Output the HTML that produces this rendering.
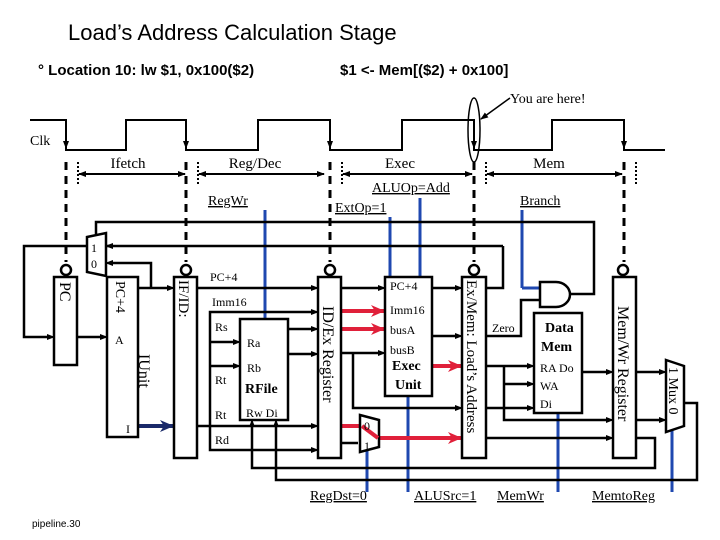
<!DOCTYPE html>
<html><head><meta charset="utf-8"><style>
html,body{margin:0;padding:0;background:#fff;}
svg{display:block}
</style></head><body>
<svg width="720" height="540" viewBox="0 0 720 540" xmlns="http://www.w3.org/2000/svg">
<defs>
<marker id="a" markerWidth="8" markerHeight="8" refX="7" refY="4" orient="auto" markerUnits="userSpaceOnUse"><path d="M0,1 L8,4 L0,7 Z" fill="#000"/></marker>
<marker id="r" markerWidth="14" markerHeight="12" refX="13" refY="6" orient="auto" markerUnits="userSpaceOnUse"><path d="M0,0 L14,6 L0,12 L4,6 Z" fill="#e0203a"/></marker>
<marker id="b" markerWidth="14" markerHeight="12" refX="13" refY="6" orient="auto" markerUnits="userSpaceOnUse"><path d="M0,0 L14,6 L0,12 L4,6 Z" fill="#1a2a6a"/></marker>
</defs>
<g font-family="Liberation Sans, sans-serif">
<text x="68" y="40" font-size="22">Load’s Address Calculation Stage</text>
<text x="38" y="75" font-size="15" font-weight="bold">°  Location 10: lw  $1, 0x100($2)</text>
<text x="340" y="75" font-size="15" font-weight="bold">$1 &lt;-  Mem[($2) + 0x100]</text>
<text x="32" y="527" font-size="10">pipeline.30</text>
</g>
<g font-family="Liberation Serif, serif" fill="#000">
<polyline points="30,120 66,120 66,150 126,150 126,120 186,120 186,150 258,150 258,120 330,120 330,150 402,150 402,120 474,120 474,150 552,150 552,120 624,120 624,150 665,150" fill="none" stroke="#000" stroke-width="2"/>
<g stroke="#000" stroke-width="1.5"><line x1="66" y1="130" x2="66" y2="148" marker-end="url(#a)"/><line x1="186" y1="130" x2="186" y2="148" marker-end="url(#a)"/><line x1="330" y1="130" x2="330" y2="148" marker-end="url(#a)"/><line x1="474" y1="130" x2="474" y2="148" marker-end="url(#a)"/><line x1="624" y1="130" x2="624" y2="148" marker-end="url(#a)"/></g>
<text x="30" y="145" font-size="14">Clk</text>
<ellipse cx="474" cy="130" rx="6" ry="32" fill="none" stroke="#000" stroke-width="1.5"/>
<line x1="510" y1="98" x2="481" y2="119" stroke="#000" stroke-width="1.5" marker-end="url(#a)"/>
<text x="510" y="103" font-size="14">You are here!</text>
<g stroke="#000" stroke-width="3" stroke-dasharray="8,6" fill="none">
<line x1="66" y1="162" x2="66" y2="262"/><line x1="186" y1="162" x2="186" y2="262"/><line x1="330" y1="162" x2="330" y2="262"/><line x1="474" y1="162" x2="474" y2="262"/><line x1="624" y1="162" x2="624" y2="262"/>
</g>
<g stroke="#000" stroke-width="2" stroke-dasharray="2,2"><line x1="78" y1="162" x2="78" y2="185"/><line x1="198" y1="162" x2="198" y2="185"/><line x1="342" y1="162" x2="342" y2="185"/><line x1="486" y1="162" x2="486" y2="185"/><line x1="636" y1="162" x2="636" y2="185"/></g>
<g stroke="#000" stroke-width="2"><line x1="79" y1="174" x2="185" y2="174" marker-end="url(#a)"/><line x1="185" y1="174" x2="79" y2="174" marker-end="url(#a)"/>
<line x1="199" y1="174" x2="324" y2="174" marker-end="url(#a)"/><line x1="324" y1="174" x2="199" y2="174" marker-end="url(#a)"/>
<line x1="343" y1="174" x2="472" y2="174" marker-end="url(#a)"/><line x1="472" y1="174" x2="343" y2="174" marker-end="url(#a)"/>
<line x1="487" y1="174" x2="622" y2="174" marker-end="url(#a)"/><line x1="622" y1="174" x2="487" y2="174" marker-end="url(#a)"/></g>
<g font-size="15" text-anchor="middle"><text x="128" y="168">Ifetch</text><text x="255" y="168">Reg/Dec</text><text x="400" y="168">Exec</text><text x="549" y="168">Mem</text></g>
<g font-size="14" text-decoration="underline"><text x="208" y="205">RegWr</text><text x="335" y="212">ExtOp=1</text><text x="372" y="192">ALUOp=Add</text><text x="520" y="205">Branch</text>
<text x="310" y="500">RegDst=0</text><text x="414" y="500">ALUSrc=1</text><text x="497" y="500">MemWr</text><text x="592" y="500">MemtoReg</text></g>
<g stroke="#1f48b0" stroke-width="3"><line x1="265" y1="210" x2="265" y2="319"/><line x1="390" y1="217" x2="390" y2="277"/><line x1="420" y1="198" x2="420" y2="277"/><line x1="522" y1="210" x2="522" y2="288"/><line x1="522" y1="288" x2="540" y2="288"/>
<line x1="408" y1="396" x2="408" y2="492"/><line x1="367" y1="448" x2="367" y2="492"/><line x1="558" y1="413" x2="558" y2="492"/><line x1="672" y1="430" x2="672" y2="492"/></g>
<g fill="#fff" stroke="#000" stroke-width="2.5"><circle cx="66" cy="270" r="5"/><circle cx="186" cy="270" r="5"/><circle cx="330" cy="270" r="5"/><circle cx="474" cy="270" r="5"/><circle cx="623" cy="270" r="5"/></g>
<g fill="none" stroke="#000" stroke-width="2.5">
<polyline points="96,234 96,222 594,222 594,294 570,294"/>
<polyline points="503,246 24,246 24,337 50,337"/>
<polyline points="486,288 503,288 503,246"/>
<polyline points="77,337 103,337"/>
<polyline points="151,288 151,263 110,263"/>
<line x1="138" y1="288" x2="170" y2="288"/>
<line x1="197" y1="288" x2="314" y2="288"/>
<polyline points="314,312 210,312 210,450 314,450"/>
<line x1="210" y1="342" x2="236" y2="342"/><line x1="210" y1="366" x2="236" y2="366"/>
<line x1="197" y1="426" x2="314" y2="426"/>
<line x1="288" y1="329" x2="314" y2="329"/><line x1="288" y1="354" x2="314" y2="354"/>
<line x1="341" y1="288" x2="381" y2="288"/>
<polyline points="341,353 381,353"/><polyline points="353,353 353,408 458,408"/>
<line x1="341" y1="443" x2="358" y2="443"/>
<line x1="432" y1="288" x2="458" y2="288"/><line x1="432" y1="336" x2="458" y2="336"/>
<polyline points="486,336 521,336 521,300 540,300"/>
<polyline points="486,366 530,366"/><polyline points="504,366 504,420 609,420"/><line x1="504" y1="384" x2="530" y2="384"/>
<line x1="486" y1="408" x2="530" y2="408"/>
<line x1="486" y1="438" x2="609" y2="438"/>
<line x1="582" y1="372" x2="609" y2="372"/>
<line x1="636" y1="372" x2="662" y2="372"/><line x1="636" y1="420" x2="662" y2="420"/>
<polyline points="636,438 655,438 655,468 252,468 252,424"/>
<polyline points="684,403 697,403 697,480 276,480 276,424"/>
</g>
<g stroke="#000" stroke-width="2"><line x1="40" y1="337" x2="54" y2="337" marker-end="url(#a)"/><line x1="95" y1="337" x2="107" y2="337" marker-end="url(#a)"/>
<line x1="115" y1="246" x2="106" y2="246" marker-end="url(#a)"/><line x1="115" y1="263" x2="106" y2="263" marker-end="url(#a)"/>
<line x1="160" y1="288" x2="174" y2="288" marker-end="url(#a)"/>
<line x1="305" y1="288" x2="318" y2="288" marker-end="url(#a)"/><line x1="305" y1="312" x2="318" y2="312" marker-end="url(#a)"/><line x1="305" y1="329" x2="318" y2="329" marker-end="url(#a)"/><line x1="305" y1="354" x2="318" y2="354" marker-end="url(#a)"/><line x1="305" y1="426" x2="318" y2="426" marker-end="url(#a)"/><line x1="305" y1="450" x2="318" y2="450" marker-end="url(#a)"/>
<line x1="228" y1="342" x2="240" y2="342" marker-end="url(#a)"/><line x1="228" y1="366" x2="240" y2="366" marker-end="url(#a)"/>
<line x1="252" y1="440" x2="252" y2="420" marker-end="url(#a)"/><line x1="276" y1="440" x2="276" y2="420" marker-end="url(#a)"/>
<line x1="372" y1="288" x2="385" y2="288" marker-end="url(#a)"/><line x1="372" y1="353" x2="385" y2="353" marker-end="url(#a)"/>
<line x1="450" y1="288" x2="462" y2="288" marker-end="url(#a)"/><line x1="450" y1="336" x2="462" y2="336" marker-end="url(#a)"/><line x1="450" y1="408" x2="462" y2="408" marker-end="url(#a)"/>
<line x1="522" y1="366" x2="534" y2="366" marker-end="url(#a)"/><line x1="522" y1="384" x2="534" y2="384" marker-end="url(#a)"/><line x1="522" y1="408" x2="534" y2="408" marker-end="url(#a)"/>
<line x1="600" y1="372" x2="613" y2="372" marker-end="url(#a)"/><line x1="600" y1="420" x2="613" y2="420" marker-end="url(#a)"/><line x1="600" y1="438" x2="613" y2="438" marker-end="url(#a)"/>
<line x1="654" y1="372" x2="666" y2="372" marker-end="url(#a)"/><line x1="654" y1="420" x2="666" y2="420" marker-end="url(#a)"/></g>
<g stroke="#e0203a" stroke-width="4" fill="none"><line x1="341" y1="311" x2="384" y2="311" marker-end="url(#r)"/><line x1="341" y1="329" x2="384" y2="329" marker-end="url(#r)"/>
<line x1="432" y1="366" x2="461" y2="366" marker-end="url(#r)"/>
<polyline points="341,426 362,426 378,438 461,438" marker-end="url(#r)"/></g>
<line x1="138" y1="426" x2="173" y2="426" stroke="#1a2a6a" stroke-width="4" marker-end="url(#b)"/>
<g fill="#fff" stroke="#000" stroke-width="2.5">
<rect x="54" y="277" width="23" height="88"/>
<rect x="107" y="277" width="31" height="160"/>
<rect x="174" y="277" width="23" height="181"/>
<rect x="318" y="277" width="23" height="181"/>
<rect x="462" y="277" width="24" height="181"/>
<rect x="613" y="277" width="23" height="181"/>
<rect x="240" y="319" width="48" height="101"/>
<rect x="385" y="277" width="47" height="119"/>
<rect x="534" y="313" width="48" height="100"/>
<polygon points="87,237 106,233 106,276 87,272"/>
<polygon points="360,415 379,420 379,447 360,452"/>
<polygon points="666,360 684,366 684,426 666,432"/>
<path d="M540,282 L556,282 A14,12.5 0 0 1 556,307 L540,307 Z"/>
</g>
<polyline points="362,426 378,438" stroke="#e0203a" stroke-width="4" fill="none"/>
<g font-size="12"><text x="91" y="252">1</text><text x="91" y="268">0</text>
<text x="364" y="430">0</text><text x="364" y="450">1</text>
<text x="210" y="281">PC+4</text><text x="212" y="306">Imm16</text><text x="215" y="331">Rs</text><text x="247" y="347">Ra</text><text x="247" y="372">Rb</text><text x="215" y="384">Rt</text><text x="215" y="419">Rt</text><text x="246" y="417">Rw Di</text><text x="215" y="444">Rd</text>
<text x="115" y="344">A</text><text x="126" y="433">I</text>
<text x="390" y="290">PC+4</text><text x="390" y="314">Imm16</text><text x="390" y="334">busA</text><text x="390" y="354">busB</text>
<text x="492" y="332">Zero</text>
<text x="540" y="372">RA Do</text><text x="540" y="390">WA</text><text x="540" y="408">Di</text></g>
<g font-size="14" font-weight="bold"><text x="245" y="393">RFile</text><text x="392" y="370">Exec</text><text x="395" y="389">Unit</text><text x="545" y="332">Data</text><text x="541" y="351">Mem</text></g>
<g font-size="16">
<text transform="translate(60,282) rotate(90)">PC</text>
<text transform="translate(116,281) rotate(90)" font-size="14">PC+4</text>
<text transform="translate(139,354) rotate(90)">IUnit</text>
<text transform="translate(179,280) rotate(90)" font-size="15">IF/ID:</text>
<text transform="translate(323,306) rotate(90)">ID/Ex Register</text>
<text transform="translate(467,280) rotate(90)" font-size="15">Ex/Mem: Load’s Address</text>
<text transform="translate(618,306) rotate(90)">Mem/Wr Register</text>
<text transform="translate(669,367) rotate(90)" font-size="14">1 Mux 0</text>
</g>
</g>
</svg>
</body></html>
